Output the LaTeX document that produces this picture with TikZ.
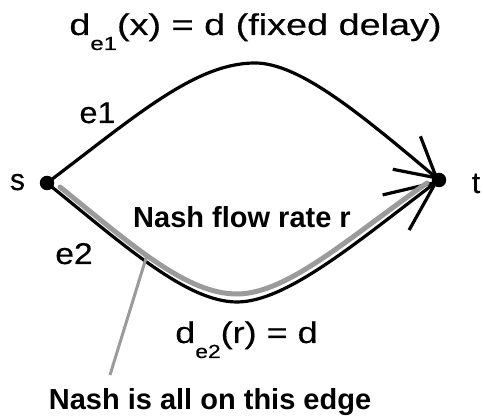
\documentclass[tikz,border=0pt]{standalone}
\usepackage{fontspec}
\setmainfont{Liberation Sans}
\newfontfamily\regfont[FakeBold=0.4]{Liberation Sans}
\usetikzlibrary{arrows.meta}
\definecolor{hl}{RGB}{155,155,155}
\tikzset{
  dot/.style={circle,fill=black,inner sep=0pt,minimum size=14.5pt},
  edgeline/.style={line width=3.2pt,black},
  hlline/.style={line width=5pt,hl,line cap=round},
  ptr/.style={line width=3pt,hl},
  lab/.style={font=\regfont\fontsize{30}{30}\selectfont,anchor=base,inner sep=0pt},
  blab/.style={font=\fontsize{29}{29}\selectfont\bfseries,anchor=base,inner sep=0pt},
}
\newcommand{\subtxt}[1]{\raisebox{-15pt}{\fontsize{19}{19}\selectfont #1}}
\begin{document}
\begin{tikzpicture}[x=1pt,y=1pt]
\useasboundingbox (0,0) rectangle (483,419);
% vertices
\node[dot] (s) at (47,236) {};
\node[dot] (t) at (439,239) {};
\coordinate (P) at (255,356);
\coordinate (B) at (237,117);
% edge e1
\draw[edgeline,-{Straight Barb[length=39pt,width=43pt]}]
  (s.center) .. controls +(37:110) and +(-60,0) .. (P)
  .. controls +(45,0) and +(140:100) .. (t.center);
% edge e2
\draw[edgeline,-{Straight Barb[length=50pt,width=44pt]}]
  (s.center) .. controls +(-39:100) and +(-50,0) .. (B)
  .. controls +(50,0) and +(217:100) .. (t.center);
% highlight of Nash flow
\coordinate (g1) at (60,232);
\coordinate (gB) at (237,125);
\coordinate (g2) at (427,236);
\draw[hlline] (g1) .. controls +(-39:95) and +(-50,0) .. (gB)
  .. controls +(50,0) and +(215:95) .. (g2);
% pointer
\node[blab] (note) at (210,9) {Nash is all on this edge};
\coordinate (p1) at (147,164);
\coordinate (p2) at (110,44);
\draw[ptr] (p1) -- (p2);
% labels
\node[lab] (title) at (255.5,384) {\scalebox{1.26}[1]{d\subtxt{e1}(x) = d (fixed delay)}};
\node[lab] (le1) at (97.5,296) {\scalebox{1.08}[1]{e1}};
\node[lab] (le2) at (74,155) {\scalebox{1.12}[1]{e2}};
\node[lab] (ls) at (17.5,229) {s};
\node[lab] (lt) at (476,226) {t};
\node[blab] (flow) at (242,191) {Nash flow rate r};
\node[lab] (cost2) at (246.5,76) {\scalebox{1.2}[1]{d\subtxt{e2}(r) = d}};
\end{tikzpicture}
\end{document}
